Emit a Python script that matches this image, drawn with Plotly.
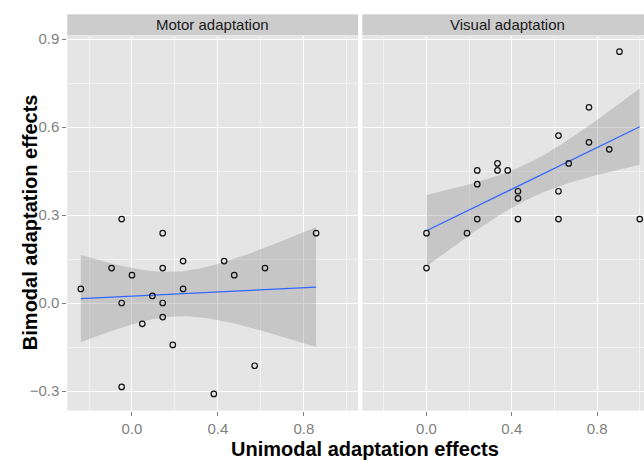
import numpy as np
import plotly.graph_objects as go

W, H = 644, 460

panels = ["Motor adaptation", "Visual adaptation"]

motor_x = [-0.048, 0.143, 0.857, 0.238, 0.429, -0.095, 0.143, 0.619, 0.0, 0.476,
           -0.238, 0.238, 0.095, -0.048, 0.143, 0.143, 0.048, 0.190, 0.571, -0.048, 0.381]
motor_y = [0.286, 0.238, 0.238, 0.143, 0.143, 0.119, 0.119, 0.119, 0.095, 0.095,
           0.048, 0.048, 0.024, 0.0, 0.0, -0.048, -0.071, -0.143, -0.214, -0.286, -0.310]

visual_x = [0.905, 0.762, 0.619, 0.762, 0.857, 0.667, 0.333, 0.238, 0.333, 0.381,
            0.238, 0.429, 0.429, 0.619, 0.238, 0.429, 0.619, 1.0, 0.0, 0.190, 0.0]
visual_y = [0.857, 0.667, 0.571, 0.548, 0.524, 0.476, 0.476, 0.452, 0.452, 0.452,
            0.405, 0.381, 0.357, 0.381, 0.286, 0.286, 0.286, 0.286, 0.238, 0.238, 0.119]

x_ticks = [0.0, 0.4, 0.8]
y_ticks = [-0.3, 0.0, 0.3, 0.6, 0.9]
T_CRIT = 2.093  # t(0.975, df=19)


def px_x(p):
    return p / W


def px_y(p):
    return 1 - p / H


def fit_band(x, y, n_pts=80):
    x = np.asarray(x, float)
    y = np.asarray(y, float)
    n = len(x)
    b, a = np.polyfit(x, y, 1)
    resid = y - (a + b * x)
    s = np.sqrt(np.sum(resid ** 2) / (n - 2))
    xm = x.mean()
    sxx = np.sum((x - xm) ** 2)
    xs = np.linspace(x.min(), x.max(), n_pts)
    yh = a + b * xs
    se = s * np.sqrt(1.0 / n + (xs - xm) ** 2 / sxx)
    return xs, yh, yh - T_CRIT * se, yh + T_CRIT * se


fig = go.Figure()

data = [(motor_x, motor_y, "x", "y"), (visual_x, visual_y, "x2", "y2")]
for xv, yv, xa, ya in data:
    xs, yh, lo, hi = fit_band(xv, yv)
    fig.add_trace(go.Scatter(
        x=np.concatenate([xs, xs[::-1]]), y=np.concatenate([hi, lo[::-1]]),
        fill="toself", fillcolor="rgba(153,153,153,0.4)", line=dict(width=0),
        mode="lines", hoverinfo="skip", showlegend=False, xaxis=xa, yaxis=ya))
    fig.add_trace(go.Scatter(
        x=xs, y=yh, mode="lines", line=dict(color="#3366FF", width=1.2),
        showlegend=False, xaxis=xa, yaxis=ya))
    fig.add_trace(go.Scatter(
        x=xv, y=yv, mode="markers",
        marker=dict(symbol="circle-open", size=5.5, color="#111111",
                    line=dict(width=1.2, color="#111111")),
        showlegend=False, xaxis=xa, yaxis=ya, cliponaxis=True))

axis_common = dict(
    showgrid=True, gridcolor="white", gridwidth=1.2, zeroline=False,
    showline=False, ticks="outside", ticklen=4, tickcolor="#7F7F7F",
    tickfont=dict(family="Liberation Sans, Arial", size=15, color="#7F7F7F"),
)

xdom1 = [px_x(67.3), px_x(358.0)]
xdom2 = [px_x(362.3), 1.0]
ydom = [px_y(410.0), px_y(30.5)]

fig.update_layout(
    width=W, height=H, margin=dict(l=0, r=0, t=0, b=0),
    paper_bgcolor="white", plot_bgcolor="#E5E5E5",
    xaxis=dict(domain=xdom1, range=[-0.301, 1.052], tickvals=x_ticks,
               ticktext=["0.0", "0.4", "0.8"], anchor="y",
               minor=dict(tickvals=[-0.2, 0.2, 0.6, 1.0], showgrid=True,
                          gridcolor="#F2F2F2", gridwidth=1, ticks=""),
               **axis_common),
    xaxis2=dict(domain=xdom2, range=[-0.301, 1.020], tickvals=x_ticks,
                ticktext=["0.0", "0.4", "0.8"], anchor="y2",
                minor=dict(tickvals=[-0.2, 0.2, 0.6, 1.0], showgrid=True,
                           gridcolor="#F2F2F2", gridwidth=1, ticks=""),
                **axis_common),
    yaxis=dict(domain=ydom, range=[-0.367, 0.910], tickvals=y_ticks,
               ticktext=["\u22120.3", "0.0", "0.3", "0.6", "0.9"], anchor="x",
               minor=dict(tickvals=[-0.15, 0.15, 0.45, 0.75], showgrid=True,
                          gridcolor="#F2F2F2", gridwidth=1, ticks=""),
               **axis_common),
    yaxis2=dict(domain=ydom, range=[-0.367, 0.910], tickvals=y_ticks, anchor="x2",
                showticklabels=False, showgrid=True, gridcolor="white", gridwidth=1.2,
                zeroline=False, ticks="",
                minor=dict(tickvals=[-0.15, 0.15, 0.45, 0.75], showgrid=True,
                           gridcolor="#F2F2F2", gridwidth=1, ticks="")),
)

# facet strips
strip_y0, strip_y1 = px_y(30.0), px_y(8.3)
for (x0, x1) in [xdom1, xdom2]:
    fig.add_shape(type="rect", xref="paper", yref="paper", x0=x0, x1=x1,
                  y0=strip_y0, y1=strip_y1, fillcolor="#CCCCCC", line=dict(width=0),
                  layer="below")

strip_centers = [px_x(212.7), px_x(507.7)]
for name, cx in zip(panels, strip_centers):
    fig.add_annotation(text=name, x=cx, y=px_y(19.2), xref="paper", yref="paper",
                       showarrow=False, xanchor="center", yanchor="middle",
                       font=dict(family="Liberation Sans, Arial", size=15, color="#1A1A1A"))

fig.add_annotation(text="<b>Unimodal adaptation effects</b>", x=px_x(365), y=px_y(449),
                   xref="paper", yref="paper", showarrow=False,
                   xanchor="center", yanchor="middle",
                   font=dict(family="Liberation Sans, Arial", size=20, color="black"))
fig.add_annotation(text="<b>Bimodal adaptation effects</b>", x=px_x(30), y=px_y(219),
                   xref="paper", yref="paper", showarrow=False, textangle=-90,
                   xanchor="center", yanchor="middle",
                   font=dict(family="Liberation Sans, Arial", size=20, color="black"))

fig.write_html("out.html", config={"displayModeBar": False},
               post_script="document.body.style.margin='0px';document.body.style.overflow='hidden';")
